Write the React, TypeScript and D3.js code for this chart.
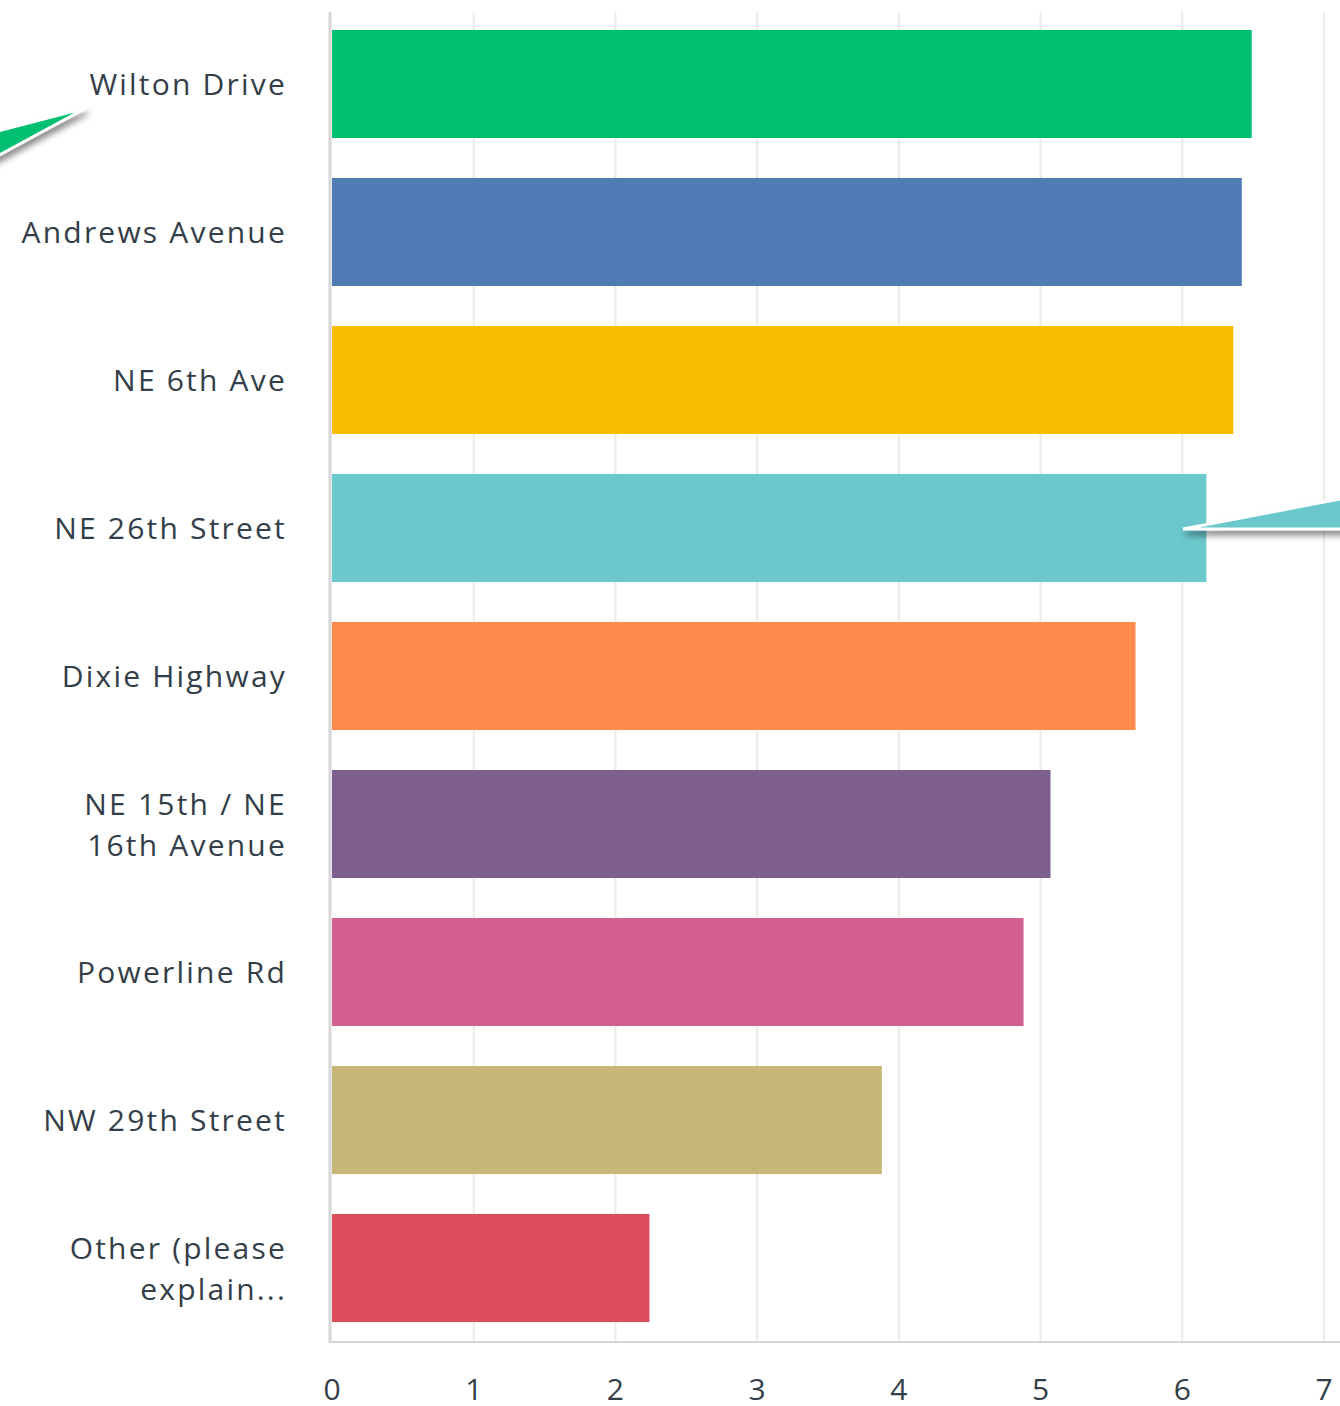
import React, { useEffect, useRef } from 'react';
import * as d3 from 'd3';

const categories = [
  'Wilton Drive',
  'Andrews Avenue',
  'NE 6th Ave',
  'NE 26th Street',
  'Dixie Highway',
  'NE 15th / NE\n16th Avenue',
  'Powerline Rd',
  'NW 29th Street',
  'Other (please\nexplain...',
];
const values = [6.49, 6.42, 6.36, 6.17, 5.67, 5.07, 4.88, 3.88, 2.24];
const colors = ['#00bf6f', '#507cb6', '#f9be00', '#6bc8cd', '#ff8b4f', '#7f5f8f', '#d25f90', '#c7b879', '#db4d5c'];
const xTicks = [0, 1, 2, 3, 4, 5, 6, 7];

const W = 1340;
const H = 1406;

export default function App() {
  const ref = useRef<SVGSVGElement | null>(null);

  useEffect(() => {
    const svg = d3.select(ref.current);
    svg.selectAll('*').remove();

    const x = d3.scaleLinear().domain([0, 7]).range([332, 1324]);
    const y = d3.scaleBand<string>()
      .domain(categories)
      .range([11, 1341])
      .paddingInner(0.27)
      .paddingOuter(0.128);

    const defs = svg.append('defs');
    const f = defs.append('filter').attr('id', 'shadow')
      .attr('x', '-20%').attr('y', '-50%').attr('width', '140%').attr('height', '250%');
    f.append('feDropShadow').attr('dx', 2).attr('dy', 5).attr('stdDeviation', 3)
      .attr('flood-color', '#000').attr('flood-opacity', 0.45);

    // grid
    svg.selectAll('line.grid')
      .data(xTicks.slice(1))
      .enter()
      .append('line')
      .attr('x1', d => x(d))
      .attr('x2', d => x(d))
      .attr('y1', 12)
      .attr('y2', 1342)
      .attr('stroke', '#ebebeb')
      .attr('stroke-width', 2);

    // bars
    svg.selectAll('rect.bar')
      .data(categories)
      .enter()
      .append('rect')
      .attr('x', x(0))
      .attr('y', d => y(d) as number)
      .attr('width', (d, i) => x(values[i]) - x(0))
      .attr('height', y.bandwidth())
      .attr('fill', (d, i) => colors[i]);

    // axes lines
    svg.append('line')
      .attr('x1', 330).attr('x2', 330).attr('y1', 12).attr('y2', 1343)
      .attr('stroke', '#d6d6d6').attr('stroke-width', 3);
    svg.append('line')
      .attr('x1', 329).attr('x2', W).attr('y1', 1342).attr('y2', 1342)
      .attr('stroke', '#d6d6d6').attr('stroke-width', 2);

    // tick labels
    svg.selectAll('text.tick')
      .data(xTicks)
      .enter()
      .append('text')
      .attr('x', d => x(d))
      .attr('y', 1400)
      .attr('text-anchor', 'middle')
      .attr('font-family', 'Open Sans, sans-serif')
      .attr('font-size', 30)
      .attr('fill', '#333e48')
      .text(d => d);

    // category labels
    categories.forEach(c => {
      const lines = c.split('\n');
      const cy = (y(c) as number) + y.bandwidth() / 2;
      const lh = 41;
      const t = svg.append('text')
        .attr('text-anchor', 'end')
        .attr('font-family', 'Open Sans, sans-serif')
        .attr('font-size', 30)
        .attr('letter-spacing', 2.2)
        .attr('fill', '#333e48');
      lines.forEach((ln, j) => {
        t.append('tspan')
          .attr('x', 287)
          .attr('y', cy + 11 + (j - (lines.length - 1) / 2) * lh)
          .text(ln);
      });
    });

    // callouts
    const green = svg.append('g').attr('filter', 'url(#shadow)');
    green.append('path')
      .attr('d', 'M-10,133 L86,108 L-10,160 Z')
      .attr('fill', '#00bf6f')
      .attr('stroke', '#fff').attr('stroke-width', 3).attr('stroke-linejoin', 'miter');
    const teal = svg.append('g').attr('filter', 'url(#shadow)');
    teal.append('path')
      .attr('d', 'M1183,529 L1350,497 L1350,529 Z')
      .attr('fill', '#6bc8cd')
      .attr('stroke', '#fff').attr('stroke-width', 3);
  }, []);

  return (
    <svg ref={ref} width={W} height={H} style={{ position: 'absolute', left: 0, top: 0 }} />
  );
}
